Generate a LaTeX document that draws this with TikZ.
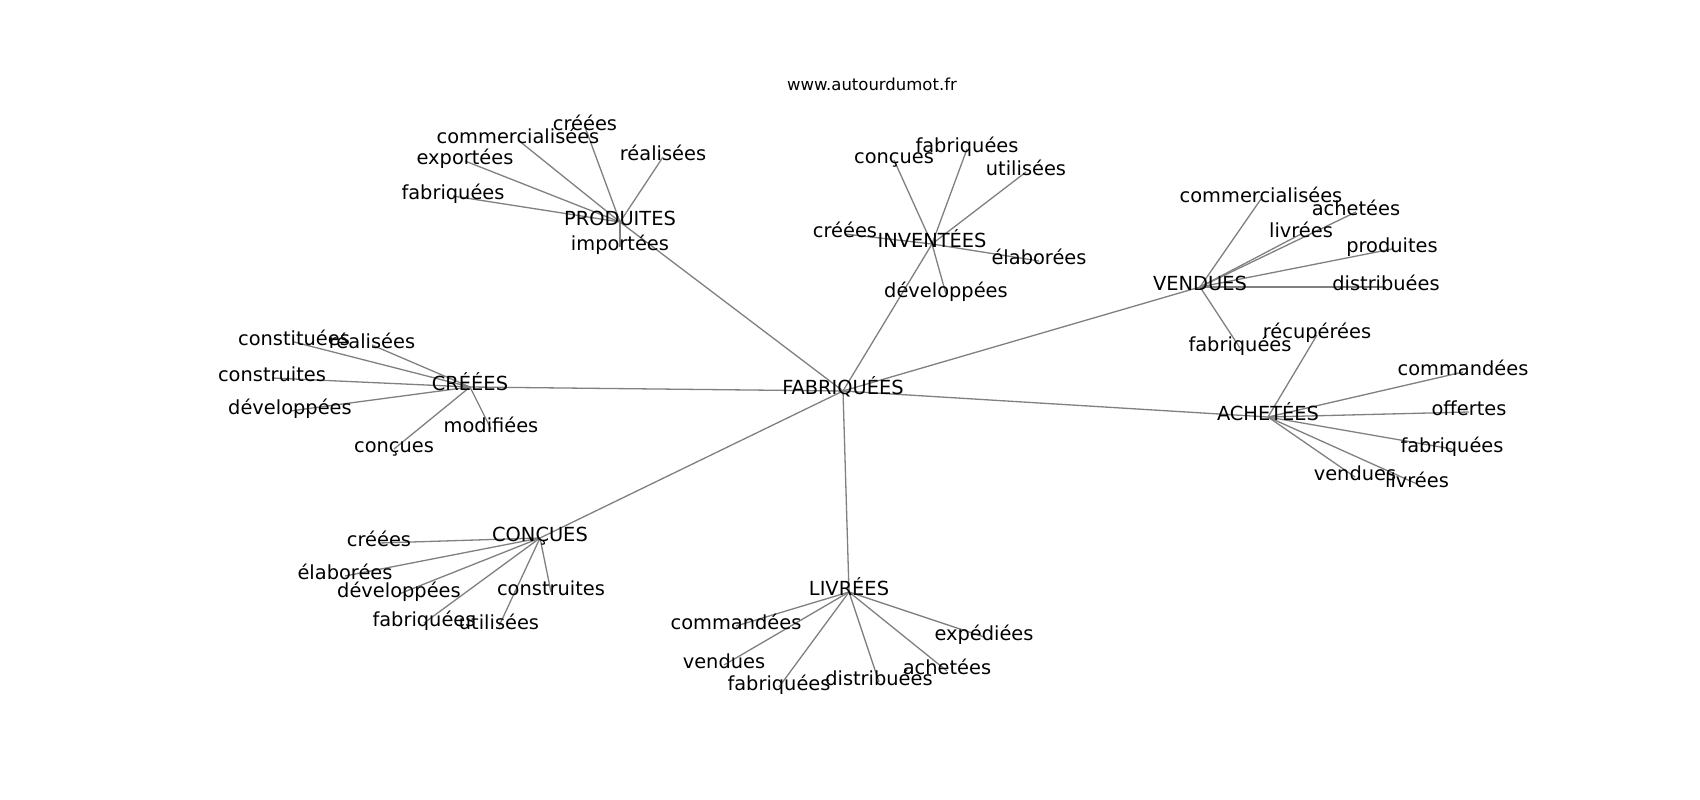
\documentclass[tikz,border=0pt]{standalone}
\usepackage{fontspec}
\setmainfont{DejaVu Sans}
\usetikzlibrary{backgrounds}
\tikzset{
  lbl/.style={inner sep=0pt, text height=0.74em, text depth=0pt, font=\fontsize{19.4}{23}\selectfont},
  ttl/.style={inner sep=0pt, text height=0.74em, text depth=0pt, font=\fontsize{16.5}{20}\selectfont},
  edge/.style={draw=gray, line width=1.3pt}
}
\begin{document}
\begin{tikzpicture}[x=1pt,y=-1pt]
\useasboundingbox (0,0) rectangle (1700,800);
\begin{scope}[shift={(0,4)}]
\node[ttl] (title) at (872,83) {www.autourdumot.fr};
% hubs
\node[lbl] (F) at (843,387) {FABRIQUÉES};
\node[lbl] (P) at (620,218) {PRODUITES};
\node[lbl] (I) at (932,240) {INVENTÉES};
\node[lbl] (V) at (1200,283) {VENDUES};
\node[lbl] (C) at (470,383) {CRÉÉES};
\node[lbl] (Q) at (540,534) {CONÇUES};
\node[lbl] (L) at (849,588) {LIVRÉES};
\node[lbl] (A) at (1268,413) {ACHETÉES};
% PRODUITES leaves
\node[lbl] (P1) at (453,192) {fabriquées};
\node[lbl] (P2) at (465,157) {exportées};
\node[lbl] (P3) at (518,136) {commercialisées};
\node[lbl] (P4) at (585,123) {créées};
\node[lbl] (P5) at (663,153) {réalisées};
\node[lbl] (P6) at (620,243) {importées};
% INVENTÉES leaves
\node[lbl] (I1) at (894,156) {conçues};
\node[lbl] (I2) at (967,145) {fabriquées};
\node[lbl] (I3) at (1026,168) {utilisées};
\node[lbl] (I4) at (845,230) {créées};
\node[lbl] (I5) at (1039,257) {élaborées};
\node[lbl] (I6) at (946,290) {développées};
% VENDUES leaves
\node[lbl] (V1) at (1261,195) {commercialisées};
\node[lbl] (V2) at (1356,208) {achetées};
\node[lbl] (V3) at (1301,230) {livrées};
\node[lbl] (V4) at (1392,245) {produites};
\node[lbl] (V5) at (1386,283) {distribuées};
\node[lbl] (V6) at (1240,344) {fabriquées};
% CRÉÉES leaves
\node[lbl] (C1) at (294,338) {constituées};
\node[lbl] (C2) at (372,341) {réalisées};
\node[lbl] (C3) at (272,374) {construites};
\node[lbl] (C4) at (290,407) {développées};
\node[lbl] (C5) at (491,425) {modifiées};
\node[lbl] (C6) at (394,445) {conçues};
% CONÇUES leaves
\node[lbl] (Q1) at (379,539) {créées};
\node[lbl] (Q2) at (345,572) {élaborées};
\node[lbl] (Q3) at (399,590) {développées};
\node[lbl] (Q4) at (424,619) {fabriquées};
\node[lbl] (Q5) at (499,622) {utilisées};
\node[lbl] (Q6) at (551,588) {construites};
% LIVRÉES leaves
\node[lbl] (L1) at (736,622) {commandées};
\node[lbl] (L2) at (724,661) {vendues};
\node[lbl] (L3) at (779,683) {fabriquées};
\node[lbl] (L4) at (879,678) {distribuées};
\node[lbl] (L5) at (947,667) {achetées};
\node[lbl] (L6) at (984,633) {expédiées};
% ACHETÉES leaves
\node[lbl] (A1) at (1317,331) {récupérées};
\node[lbl] (A2) at (1463,368) {commandées};
\node[lbl] (A3) at (1469,408) {offertes};
\node[lbl] (A4) at (1452,445) {fabriquées};
\node[lbl] (A5) at (1355,473) {vendues};
\node[lbl] (A6) at (1417,480) {livrées};
\end{scope}
\begin{scope}[on background layer]
\fill[white] (0,0) rectangle (1700,800);
\foreach \h in {P,I,V,C,Q,L,A} {\draw[edge] (F.center) -- (\h.center);}
\foreach \h in {P,I,V,C,Q,L,A} {
  \foreach \k in {1,...,6} {\draw[edge] (\h.center) -- (\h\k.center);}
}
\end{scope}
\end{tikzpicture}
\end{document}
